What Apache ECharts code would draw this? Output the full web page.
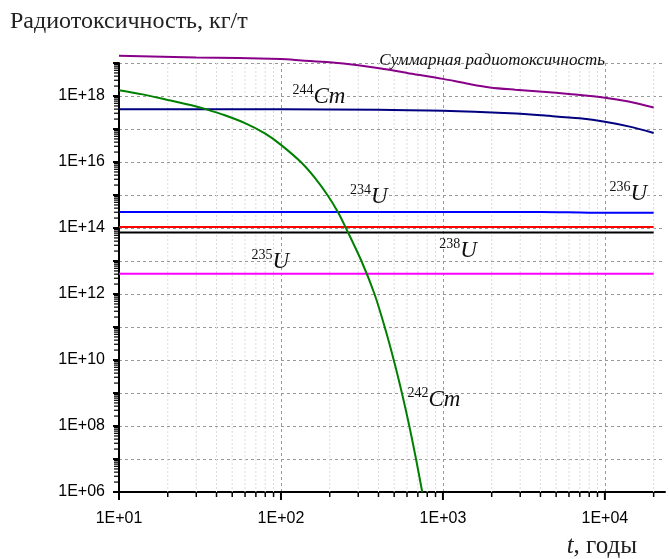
<!DOCTYPE html>
<html><head><meta charset="utf-8">
<script src="https://cdn.jsdelivr.net/npm/echarts@6/dist/echarts.min.js"></script>
<style>html,body{margin:0;padding:0;background:#fff}#c{width:669px;height:559px}</style>
</head><body><div id="c"></div>
<script>
// ---- axis extents & ticks ----
const X_MIN = 10, X_MAX = 23500, Y_MIN = 1e6, Y_MAX = 1e19;
const xMajor = [10, 100, 1000, 10000];
const xMinor = [20,30,40,50,60,70,80,90,200,300,400,500,600,700,800,900,2000,3000,4000,5000,6000,7000,8000,9000,20000];
const yDecades = [1e6,1e7,1e8,1e9,1e10,1e11,1e12,1e13,1e14,1e15,1e16,1e17,1e18];
const yMult = [2,3,4,5,6,7,8,9];

// ---- series data ----
const tSum = [10, 30, 100, 134, 200, 300, 414, 600, 1000, 1400, 1950, 2800, 4130, 6000, 10000, 14000, 20000];
const vSum = [1.66e19, 1.48e19, 1.32e19, 1.2e19, 1.05e19, 8.5e18, 6.8e18, 5.0e18, 3.3e18, 2.4e18, 1.82e18, 1.55e18, 1.35e18, 1.15e18, 8.9e17, 6.8e17, 4.5e17];

const tCm244 = [10, 100, 400, 1000, 2600, 4520, 7000, 10000, 14000, 20000];
const vCm244 = [4.0e17, 4.0e17, 3.8e17, 3.6e17, 3.0e17, 2.5e17, 2.1e17, 1.66e17, 1.2e17, 7.6e16];

const tCm242 = [10, 14, 20, 30, 34.3, 45, 60, 80, 100, 134, 162, 195, 225, 249, 314, 378, 437, 497, 558, 620, 682, 745];
const vCm242 = [1.5e18, 1.12e18, 7.6e17, 4.8e17, 4.0e17, 2.6e17, 1.5e17, 7.2e16, 3.3e16, 9.5e15, 3.3e15, 9.5e14, 3.0e14, 1.12e14, 1.0e13, 1.0e12, 1.0e11, 1.0e10, 1.0e9, 1.0e8, 1.0e7, 1.0e6];

const tU234 = [10, 4000, 8000, 20000];
const vU234 = [3.05e14, 3.05e14, 2.92e14, 2.9e14];
const tU236 = [10, 20000];
const vU236 = [1.07e14, 1.07e14];
const tU238 = [10, 20000];
const vU238 = [7.3e13, 7.3e13];
const tU235 = [10, 20000];
const vU235 = [4.1e12, 4.1e12];

// ---- annotations ----
const annSup  = ['', '244', '234', '236', '238', '235', '242'];
const annMain = ['Суммарная радиотоксичность', 'Cm', 'U', 'U', 'U', 'U', 'Cm'];
const annT    = [408, 118.6, 269, 10740, 957, 66.2, 608];
const annV    = [6.3e18, 9.5e17, 8.9e14, 1.1e15, 2.1e13, 9.5e12, 6.3e8];

const yMinor = [];
yDecades.forEach(d => yMult.forEach(m => yMinor.push(d * m)));

const zip = (t, v) => t.map((x, i) => [x, v[i]]);
const SERIF = '"Liberation Serif","Times New Roman",serif';
const SANS = '"Liberation Sans",Arial,sans-serif';

function lineSeries(name, t, v, color, z) {
  return { name, type: 'line', data: zip(t, v), showSymbol: false, smooth: 0.3, clip: false, z,
    lineStyle: { color, width: 2 }, itemStyle: { color } };
}

const chart = echarts.init(document.getElementById('c'));
const fmtExp = e => '1E+' + (e < 10 ? '0' : '') + e;

const option = {
  animation: false,
  backgroundColor: '#fff',
  grid: { left: 119, right: 4, top: 63, bottom: 67, containLabel: false },
  xAxis: {
    type: 'log', logBase: 10, min: X_MIN, max: X_MAX, interval: 1,
    axisLine: { show: true, lineStyle: { color: '#000', width: 2 } },
    axisTick: { show: false },
    axisLabel: { color: '#000', fontFamily: SANS, fontSize: 16, margin: 19,
      showMaxLabel: false,
      formatter: v => { const l = Math.log10(v); const e = Math.round(l); return Math.abs(l - e) < 1e-6 ? fmtExp(e) : ''; } },
    splitLine: { show: true, showMaxLine: false, lineStyle: { color: '#999', width: 1, type: [3, 3] } }
  },
  yAxis: {
    type: 'log', logBase: 10, min: Y_MIN, max: Y_MAX, interval: 1,
    axisLine: { show: true, lineStyle: { color: '#000', width: 2 } },
    axisTick: { show: true, length: 6, lineStyle: { color: '#000', width: 2 } },
    axisLabel: { color: '#000', fontFamily: SANS, fontSize: 16, margin: 14,
      formatter: v => { const l = Math.log10(v); const e = Math.round(l); return (Math.abs(l - e) < 1e-6 && e % 2 === 0) ? fmtExp(e) : ''; } },
    splitLine: { show: true, lineStyle: { color: '#999', width: 1, type: [3, 3] } }
  },
  graphic: [
    { type: 'text', left: 10, top: 10, style: { text: 'Радиотоксичность, кг/т', font: '24px ' + SERIF, fill: '#222' } },
    { type: 'text', right: 32, top: 534, style: { text: '{i|t}, годы', rich: { i: { fontStyle: 'italic', fontFamily: SERIF, fontSize: 25 } }, font: '25px ' + SERIF, fill: '#222' } }
  ],
  series: [
    { type: 'custom', z: 1, clip: false, silent: true, data: xMinor.map(v => [v, Y_MIN]),
      renderItem: (params, api) => {
        const v = xMinor[params.dataIndex];
        const b = api.coord([v, Y_MIN]), t = api.coord([v, Y_MAX]);
        return { type: 'group', children: [
          { type: 'line', shape: { x1: b[0], y1: t[1], x2: b[0], y2: b[1] }, style: { stroke: '#dcdcdc', lineWidth: 1, lineDash: [2, 2] } },
          { type: 'line', shape: { x1: b[0], y1: b[1], x2: b[0], y2: b[1] + 5 }, style: { stroke: '#000', lineWidth: 1.5 } }
        ] };
      } },
    { type: 'custom', z: 5, clip: false, silent: true, data: xMajor.map(v => [v, Y_MIN]),
      renderItem: (params, api) => {
        const b = api.coord([xMajor[params.dataIndex], Y_MIN]);
        return { type: 'line', shape: { x1: b[0], y1: b[1], x2: b[0], y2: b[1] + 8 }, style: { stroke: '#000', lineWidth: 2 } };
      } },
    { type: 'custom', z: 5, clip: false, silent: true, data: yMinor.map(v => [X_MIN, v]),
      renderItem: (params, api) => {
        const p = api.coord([X_MIN, yMinor[params.dataIndex]]);
        return { type: 'line', shape: { x1: p[0] - 5, y1: p[1], x2: p[0], y2: p[1] }, style: { stroke: '#000', lineWidth: 1.2 } };
      } },
    lineSeries('235U', tU235, vU235, '#ff00ff', 10),
    lineSeries('238U', tU238, vU238, '#000000', 10),
    lineSeries('236U', tU236, vU236, '#ff0000', 10),
    lineSeries('234U', tU234, vU234, '#0000ff', 10),
    lineSeries('244Cm', tCm244, vCm244, '#000080', 11),
    lineSeries('242Cm', tCm242, vCm242, '#008000', 12),
    Object.assign(lineSeries('Сумма', tSum, vSum, '#880088', 13), {
      markPoint: {
        symbol: 'circle', symbolSize: 1, itemStyle: { color: 'rgba(0,0,0,0)' },
        data: annMain.map((m, i) => ({
          coord: [annT[i], annV[i]],
          label: {
            show: true, position: [0, 0], align: 'left', verticalAlign: annSup[i] ? 'middle' : 'bottom',
            formatter: annSup[i] ? '{s|' + annSup[i] + '}{m|' + m + '}' : '{t|' + m + '}',
            rich: {
              s: { fontFamily: SERIF, fontSize: 14, color: '#111', verticalAlign: 'top', lineHeight: 14 },
              m: { fontFamily: SERIF, fontStyle: 'italic', fontSize: 23, color: '#111', verticalAlign: 'bottom', lineHeight: 25 },
              t: { fontFamily: SERIF, fontStyle: 'italic', fontSize: 17, color: '#111', lineHeight: 17 }
            }
          }
        }))
      }
    })
  ]
};
chart.setOption(option);
</script></body></html>
